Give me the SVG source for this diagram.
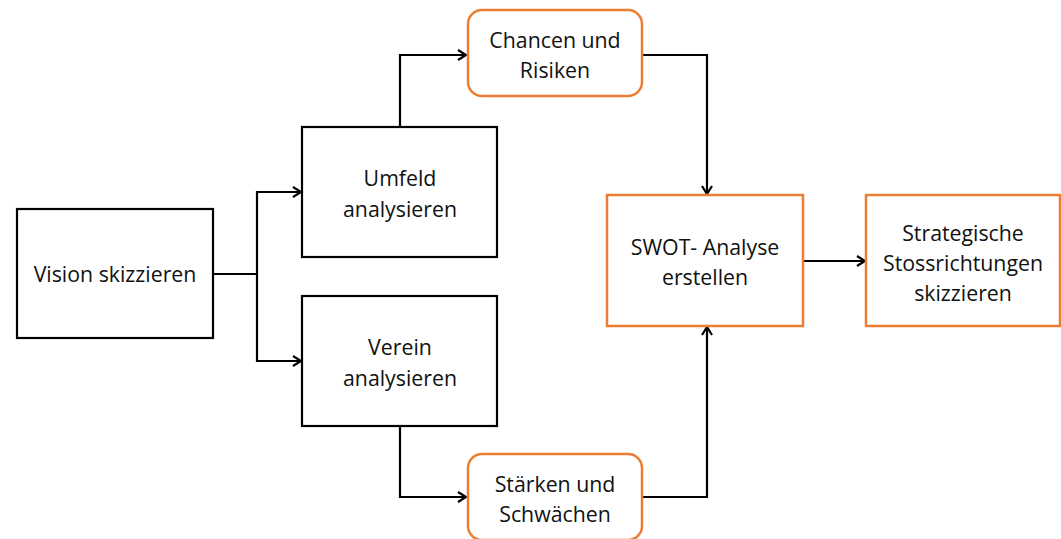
<svg xmlns="http://www.w3.org/2000/svg" width="1061" height="539" viewBox="0 0 1061 539">
<defs>
<marker id="ah" markerWidth="12" markerHeight="12" refX="10" refY="6" orient="auto" markerUnits="userSpaceOnUse">
<path d="M2,1 L10,6 L2,11" fill="none" stroke="#000" stroke-width="2.2"/>
</marker>
</defs>
<style>
.bk{fill:#fff;stroke:#000;stroke-width:2.2}
.or{fill:#fff;stroke:#ED7D31;stroke-width:2.5}
.t{font-family:"Open Sans","Noto Sans",sans-serif;font-size:21.3px;fill:#111;text-anchor:middle}
.c{fill:none;stroke:#000;stroke-width:2.2}
</style>
<g id="connectors">
<polyline class="c" points="213,274 257,274"/>
<polyline class="c" points="257,274 257,192 301,192" marker-end="url(#ah)"/>
<polyline class="c" points="257,274 257,361 301,361" marker-end="url(#ah)"/>
<polyline class="c" points="400,127 400,55 466,55" marker-end="url(#ah)"/>
<polyline class="c" points="642,55 707,55 707,194" marker-end="url(#ah)"/>
<polyline class="c" points="400,426 400,497 466,497" marker-end="url(#ah)"/>
<polyline class="c" points="642,497 707,497 707,327" marker-end="url(#ah)"/>
<polyline class="c" points="803,261 865,261" marker-end="url(#ah)"/>
</g>
<g id="vision">
<rect class="bk" x="17" y="209" width="196" height="129"/>
<text class="t" x="115" y="282">Vision skizzieren</text>
</g>
<g id="umfeld">
<rect class="bk" x="302" y="127" width="195" height="130"/>
<text class="t" x="400" y="186">Umfeld</text>
<text class="t" x="400" y="217">analysieren</text>
</g>
<g id="verein">
<rect class="bk" x="302" y="296" width="195" height="130"/>
<text class="t" x="400" y="355">Verein</text>
<text class="t" x="400" y="386">analysieren</text>
</g>
<g id="chancen">
<rect class="or" x="468" y="10" width="174" height="86" rx="14"/>
<text class="t" x="555" y="48">Chancen und</text>
<text class="t" x="555" y="78">Risiken</text>
</g>
<g id="staerken">
<rect class="or" x="468" y="454" width="174" height="86" rx="14"/>
<text class="t" x="555" y="492">Stärken und</text>
<text class="t" x="555" y="522">Schwächen</text>
</g>
<g id="swot">
<rect class="or" x="607" y="195" width="196" height="131"/>
<text class="t" x="705" y="255">SWOT- Analyse</text>
<text class="t" x="705" y="285">erstellen</text>
</g>
<g id="strategie">
<rect class="or" x="866" y="195" width="194" height="131"/>
<text class="t" x="963" y="241">Strategische</text>
<text class="t" x="963" y="271">Stossrichtungen</text>
<text class="t" x="963" y="301">skizzieren</text>
</g>
</svg>
